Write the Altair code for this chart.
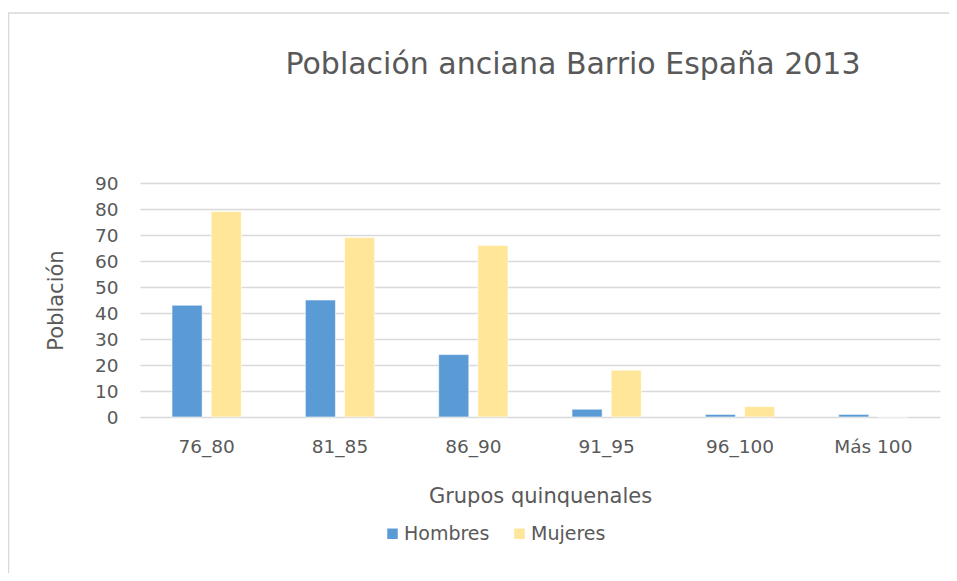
import altair as alt
import pandas as pd

categorias = ["76_80", "81_85", "86_90", "91_95", "96_100", "Más 100"]
hombres = [43, 45, 24, 3, 1, 1]
mujeres = [79, 69, 66, 18, 4, 0]
series = ["Hombres", "Mujeres"]
colores = ["#5B9BD5", "#FFE699"]
y_ticks = [0, 10, 20, 30, 40, 50, 60, 70, 80, 90]

rows = []
for c, h, m in zip(categorias, hombres, mujeres):
    rows.append({"grupo": c, "sexo": "Hombres", "valor": h})
    rows.append({"grupo": c, "sexo": "Mujeres", "valor": m})
df = pd.DataFrame(rows)

FONT = "DejaVu Sans"
TXT = "#595959"
GRID = "#D9D9D9"

bars = alt.Chart(df).mark_bar(stroke="white", strokeWidth=0.6).encode(
    x=alt.X(
        "grupo:N",
        sort=categorias,
        scale=alt.Scale(paddingInner=0.48, paddingOuter=0.24),
        axis=alt.Axis(
            title="Grupos quinquenales",
            labelAngle=0,
            labelFontSize=18.5,
            labelColor=TXT,
            labelFont=FONT,
            labelPadding=20,
            domain=False,
            ticks=False,
            titleFont=FONT,
            titleFontSize=21,
            titleFontWeight="normal",
            titleColor=TXT,
            titlePadding=30,
        ),
    ),
    xOffset=alt.XOffset("sexo:N", sort=series, scale=alt.Scale(paddingInner=0.23, paddingOuter=0)),
    y=alt.Y(
        "valor:Q",
        scale=alt.Scale(domain=[0, 90], nice=False),
        axis=alt.Axis(
            title="Población",
            values=y_ticks,
            grid=True,
            gridColor=GRID,
            gridWidth=1.3,
            domain=False,
            ticks=False,
            labelFontSize=18.5,
            labelColor=TXT,
            labelFont=FONT,
            labelPadding=22,
            titleFont=FONT,
            titleFontSize=21,
            titleFontWeight="normal",
            titleColor=TXT,
            titlePadding=28,
        ),
    ),
    color=alt.Color(
        "sexo:N",
        sort=series,
        scale=alt.Scale(domain=series, range=colores),
        legend=alt.Legend(
            title=None,
            orient="none",
            legendX=243,
            legendY=341,
            direction="horizontal",
            symbolType="square",
            symbolSize=110,
            symbolStrokeWidth=0,
            labelFont=FONT,
            labelFontSize=19,
            labelColor=TXT,
            labelOffset=2,
            columnPadding=20,
        ),
    ),
)

frame = alt.Chart(alt.Data(values=[{}]))
top_line = frame.mark_rule(color=GRID, strokeWidth=1.5).encode(
    x=alt.value(-132), x2=alt.value(817), y=alt.value(-170)
)
left_line = frame.mark_rule(color=GRID, strokeWidth=1.5).encode(
    x=alt.value(-131.5), y=alt.value(-170), y2=alt.value(400)
)

chart = (
    alt.layer(top_line, left_line, bars)
    .properties(
        width=800,
        height=234,
        padding={"left": 132, "top": 175, "right": 9, "bottom": 156},
        autosize=alt.AutoSizeParams(type="none"),
        background="white",
        title=alt.TitleParams(
            "Población anciana Barrio España 2013",
            font=FONT,
            fontSize=30,
            fontWeight="normal",
            color=TXT,
            anchor="middle",
            frame="group",
            dx=33,
            offset=-68,
        ),
    )
    .configure_view(stroke=None)
)

chart.save("out.html", embed_options={"renderer": "svg", "actions": False})
